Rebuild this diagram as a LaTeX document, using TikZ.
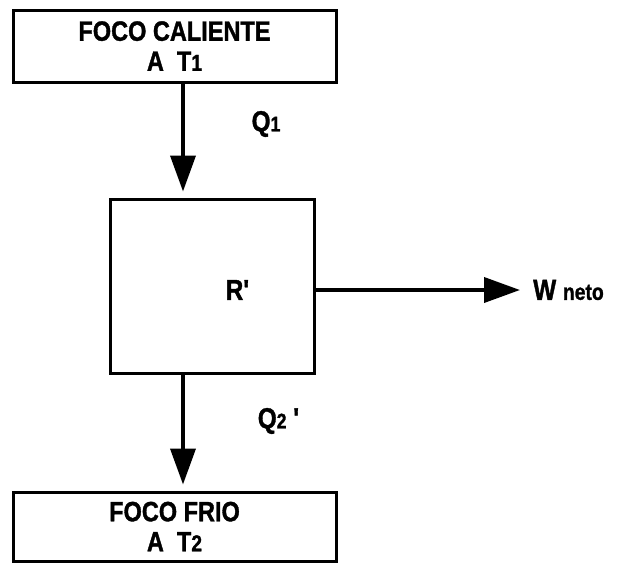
\documentclass[tikz,border=0pt]{standalone}
\usepackage{fontspec}
\setmainfont{Liberation Sans}
\newfontfamily\heavy[FakeStretch=0.84,FakeBold=1.2]{Liberation Sans Bold}
\usepackage{tikz}
\usetikzlibrary{arrows.meta,positioning}

\begin{document}
\begin{tikzpicture}[x=1pt,y=-1pt,
    focus/.style={draw,line width=3pt,minimum width=323pt,inner sep=0pt,
        align=center,font=\fontsize{28}{30}\heavy},
    engine/.style={draw,line width=3pt,minimum width=204pt,minimum height=174pt},
    flow/.style={line width=3.8pt,-{Triangle[length=36pt,width=25pt]},shorten >=6pt},
    lbl/.style={font=\fontsize{29}{30}\heavy}]
    \useasboundingbox (0,0) rectangle (621,563);

    % Boxes
    \node[focus,minimum height=72pt] (hot) at (174.5,46) {FOCO CALIENTE\\A\ \ T{\fontsize{23}{24}\heavy 1}};
    \node[engine] (rev) at (212,286) {};
    \node[focus,minimum height=69pt] (cold) at (174.5,526.5) {FOCO FRIO\\A\ \ T{\fontsize{23}{24}\heavy 2}};
    \node[lbl] (r) at (238,290) {R\textquotesingle};
    \coordinate (axis) at (183,0);
    \coordinate (out) at (526,290);

    % Arrows
    \draw[flow] (hot.south -| axis) -- (rev.north -| axis);
    \draw[flow] (rev.south -| axis) -- (cold.north -| axis);
    \draw[flow] (rev.east |- out) -- (out);

    % Labels
    \node[lbl] (q1) at (266,124) {Q{\fontsize{21}{22}\heavy 1}};
    \node[lbl] (q2) at (279,421) {Q{\fontsize{21}{22}\heavy 2}\ \textquotesingle};
    \node[lbl,anchor=west,inner sep=0pt,xshift=7pt] (w) at (out) {W {\fontsize{23}{24}\heavy neto}};
\end{tikzpicture}
\end{document}
